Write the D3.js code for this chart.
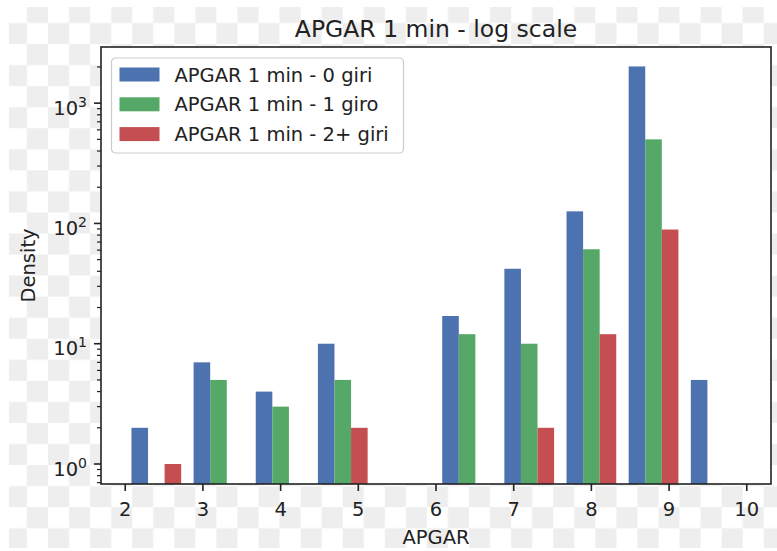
<!DOCTYPE html>
<html>
<head>
<meta charset="utf-8">
<script src="https://cdn.jsdelivr.net/npm/d3@7"></script>
<style>
  body { margin: 0; background: #fff; }
  svg text { font-family: "DejaVu Sans", sans-serif; fill: #222; }
</style>
</head>
<body>
<div id="grafico"></div>
<script>
// Dados do histograma (contagens por bin, escala log)
const bordas = [2, 2.8, 3.6, 4.4, 5.2, 6.0, 6.8, 7.6, 8.4, 9.2, 10];
const nomes = ["APGAR 1 min - 0 giri", "APGAR 1 min - 1 giro", "APGAR 1 min - 2+ giri"];
const giri0 = [2, 7, 4, 10, 0, 17, 42, 126, 2020, 5];
const giri1 = [0, 5, 3, 5, 0, 12, 10, 61, 500, 0];
const giri2 = [1, 0, 0, 2, 0, 0, 2, 12, 89, 0];
const xTicks = [2, 3, 4, 5, 6, 7, 8, 9, 10];
const yTicks = [1, 10, 100, 1000];
const yLimites = [0.682, 2930];

const cores = ['#4C72B0', '#55A868', '#C44E52'];
const contagens = [giri0, giri1, giri2];

function graficar(id_area) {
    const W = 777, H = 551;
    let margin = { top: 47, right: 6, bottom: 67, left: 101 };
    let width = W - margin.left - margin.right;
    let height = H - margin.top - margin.bottom;

    let svg = d3.select(`#${id_area}`).append('svg')
        .attr('width', W)
        .attr('height', H);

    // Fundo quadriculado (transparência)
    const s = 21.05;
    let defs = svg.append('defs');
    let pat = defs.append('pattern')
        .attr('id', 'xadrez')
        .attr('patternUnits', 'userSpaceOnUse')
        .attr('x', 5.9).attr('y', 1.95)
        .attr('width', 2 * s).attr('height', 2 * s);
    pat.append('rect').attr('width', 2 * s).attr('height', 2 * s).attr('fill', '#fff');
    pat.append('rect').attr('x', s).attr('y', 0).attr('width', s).attr('height', s).attr('fill', '#eeeeee');
    pat.append('rect').attr('x', 0).attr('y', s).attr('width', s).attr('height', s).attr('fill', '#eeeeee');
    svg.append('rect')
        .attr('x', 9).attr('y', 7)
        .attr('width', W - 9).attr('height', 541)
        .attr('fill', 'url(#xadrez)');

    let g = svg.append('g')
        .attr('transform', `translate(${margin.left}, ${margin.top})`);

    g.append('rect')
        .attr('width', width).attr('height', height)
        .attr('fill', '#fff');

    // Escalas (margem de 5% como no matplotlib)
    const bw = bordas[1] - bordas[0];
    const xmin = bordas[0] + 0.1 * bw, xmax = bordas[bordas.length - 1] - 0.1 * bw;
    const pad = 0.05 * (xmax - xmin);
    let x = d3.scaleLinear().domain([xmin - pad, xmax + pad]).range([0, width]);
    let y = d3.scaleLog().domain(yLimites).range([height, 0]);

    // Barras
    const larg = bw * 0.8 / contagens.length;
    contagens.forEach(function (serie, k) {
        g.append('g').selectAll('rect')
            .data(serie.map((v, i) => ({ v: v, i: i })).filter(d => d.v > 0))
            .join('rect')
            .attr('x', d => x(bordas[d.i] + 0.1 * bw + k * larg))
            .attr('width', d => x(bordas[d.i] + 0.1 * bw + (k + 1) * larg) - x(bordas[d.i] + 0.1 * bw + k * larg))
            .attr('y', d => y(d.v))
            .attr('height', d => height - y(d.v))
            .attr('fill', cores[k]);
    });

    // Eixo x
    let gx = g.append('g').attr('transform', `translate(0, ${height})`);
    xTicks.forEach(function (t) {
        gx.append('line')
            .attr('x1', x(t)).attr('x2', x(t))
            .attr('y1', 0).attr('y2', 7)
            .attr('stroke', '#222').attr('stroke-width', 1.6);
        gx.append('text')
            .attr('x', x(t)).attr('y', 32)
            .attr('text-anchor', 'middle')
            .style('font-size', '19.5px')
            .text(t);
    });

    // Eixo y (log, ticks maiores e menores)
    let gy = g.append('g');
    let menores = [];
    for (let e = -1; e <= 3; e++) {
        for (let m = 2; m <= 9; m++) {
            let v = m * Math.pow(10, e);
            if (v >= yLimites[0] && v <= yLimites[1]) menores.push(v);
        }
    }
    menores.forEach(function (v) {
        gy.append('line')
            .attr('x1', -4).attr('x2', 0)
            .attr('y1', y(v)).attr('y2', y(v))
            .attr('stroke', '#222').attr('stroke-width', 1.2);
    });
    yTicks.forEach(function (t) {
        gy.append('line')
            .attr('x1', -7).attr('x2', 0)
            .attr('y1', y(t)).attr('y2', y(t))
            .attr('stroke', '#222').attr('stroke-width', 1.6);
        let txt = gy.append('text')
            .attr('x', -14).attr('y', y(t) + 11.5)
            .attr('text-anchor', 'end')
            .style('font-size', '19.5px');
        txt.append('tspan').text('10');
        txt.append('tspan')
            .attr('dy', -8)
            .style('font-size', '14px')
            .text(Math.round(Math.log10(t)));
    });

    // Moldura
    g.append('rect')
        .attr('width', width).attr('height', height)
        .attr('fill', 'none')
        .attr('stroke', '#222').attr('stroke-width', 1.6);

    // Títulos
    g.append('text')
        .attr('x', width / 2).attr('y', -10)
        .attr('text-anchor', 'middle')
        .style('font-size', '23.5px')
        .text('APGAR 1 min - log scale');

    g.append('text')
        .attr('x', width / 2).attr('y', height + 60)
        .attr('text-anchor', 'middle')
        .style('font-size', '19.5px')
        .text('APGAR');

    g.append('text')
        .attr('transform', 'rotate(-90)')
        .attr('x', -height / 2).attr('y', -66)
        .attr('text-anchor', 'middle')
        .style('font-size', '19.5px')
        .text('Density');

    // Legenda
    let leg = g.append('g').attr('transform', 'translate(10.5, 11)');
    leg.append('rect')
        .attr('width', 292).attr('height', 95)
        .attr('rx', 4).attr('ry', 4)
        .attr('fill', '#fff').attr('fill-opacity', 0.8)
        .attr('stroke', '#cccccc').attr('stroke-width', 1.2);
    nomes.forEach(function (nome, k) {
        let cy = 16.5 + k * 29.8;
        leg.append('rect')
            .attr('x', 8).attr('y', cy - 7)
            .attr('width', 40).attr('height', 14)
            .attr('fill', cores[k]);
        leg.append('text')
            .attr('x', 63).attr('y', cy + 7)
            .style('font-size', '19.5px')
            .text(nome);
    });
}

graficar('grafico');
</script>
</body>
</html>
